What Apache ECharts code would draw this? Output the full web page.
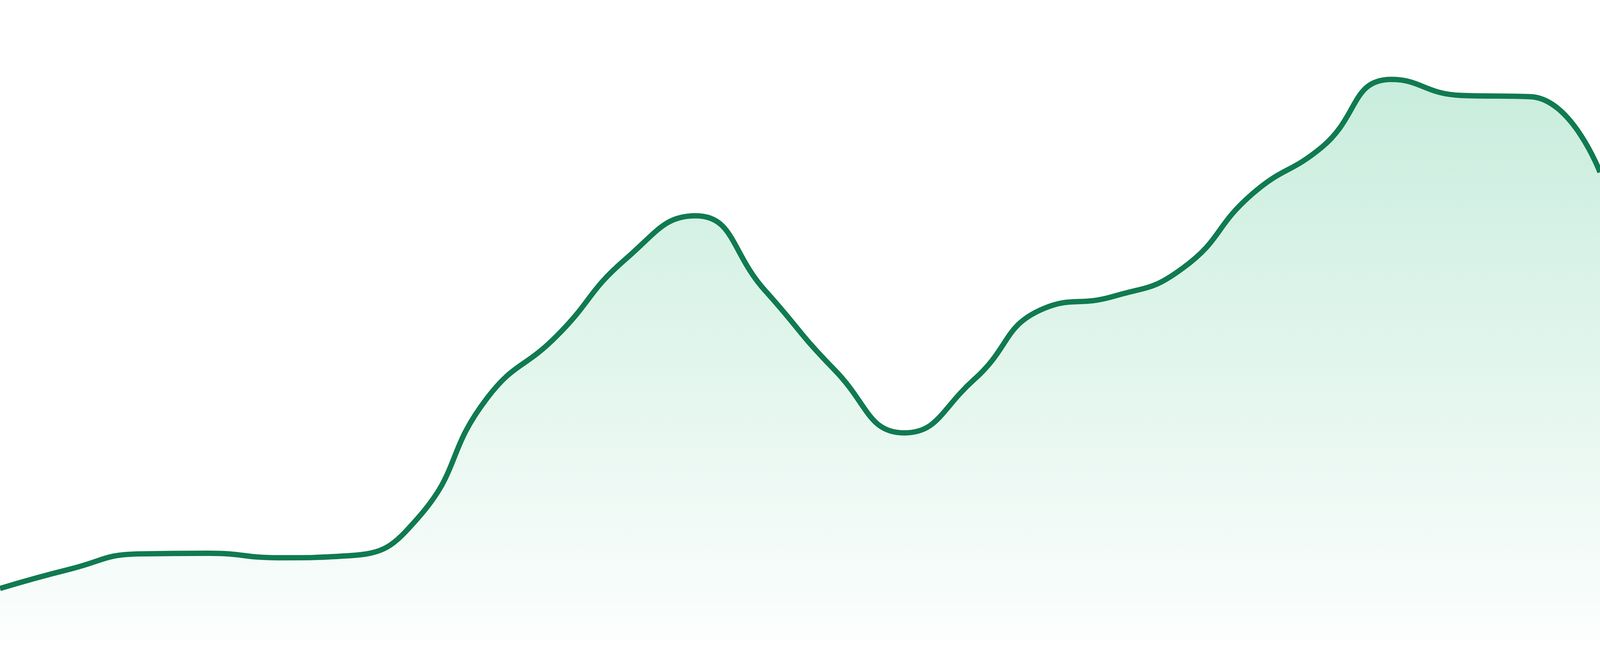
<!DOCTYPE html>
<html>
<head>
<meta charset="utf-8">
<title>area trend</title>
<script src="https://cdn.jsdelivr.net/npm/echarts@6/dist/echarts.min.js"></script>
<style>
html, body { margin: 0; padding: 0; width: 100%; height: 100%; overflow: hidden; background: #ffffff; }
#chart { width: 100vw; height: 100vh; }
</style>
</head>
<body>
<div id="chart"></div>
<script>
// values (0-100 scale of the plot height)
var categories = ['1', '2', '3', '4', '5', '6', '7', '8', '9', '10', '11', '12',
	'13', '14', '15', '16', '17', '18', '19', '20', '21', '22', '23', '24'];
var values = [8.1, 11.1, 13.5, 13.6, 12.9, 13.2, 19.0, 37.8, 47.5, 59.6, 66.3, 54.6,
	42.2, 32.4, 40.7, 51.8, 53.7, 58.1, 69.7, 77.0, 87.6, 85.1, 84.9, 73.1];

var lineColor = '#107a50';

var myChart = echarts.init(document.getElementById('chart'));
// the reference was drawn at 4800 px wide; keep sizes proportional to that
var k = myChart.getWidth() / 4800;

var option = {
	animation: false,
	backgroundColor: '#ffffff',
	grid: {
		left: 0,
		right: 0,
		top: 0,
		bottom: 47 * k
	},
	xAxis: {
		type: 'category',
		boundaryGap: false,
		data: categories,
		show: false
	},
	yAxis: {
		type: 'value',
		min: 0,
		max: 100,
		show: false
	},
	series: [{
		type: 'line',
		data: values,
		smooth: true,
		showSymbol: false,
		lineStyle: {
			color: lineColor,
			width: 16 * k
		},
		areaStyle: {
			color: new echarts.graphic.LinearGradient(0, 0, 0, 1, [
				{ offset: 0, color: 'rgba(24,178,112,0.34)' },
				{ offset: 1, color: 'rgba(24,178,112,0.02)' }
			])
		}
	}]
};
myChart.setOption(option);
</script>
</body>
</html>
